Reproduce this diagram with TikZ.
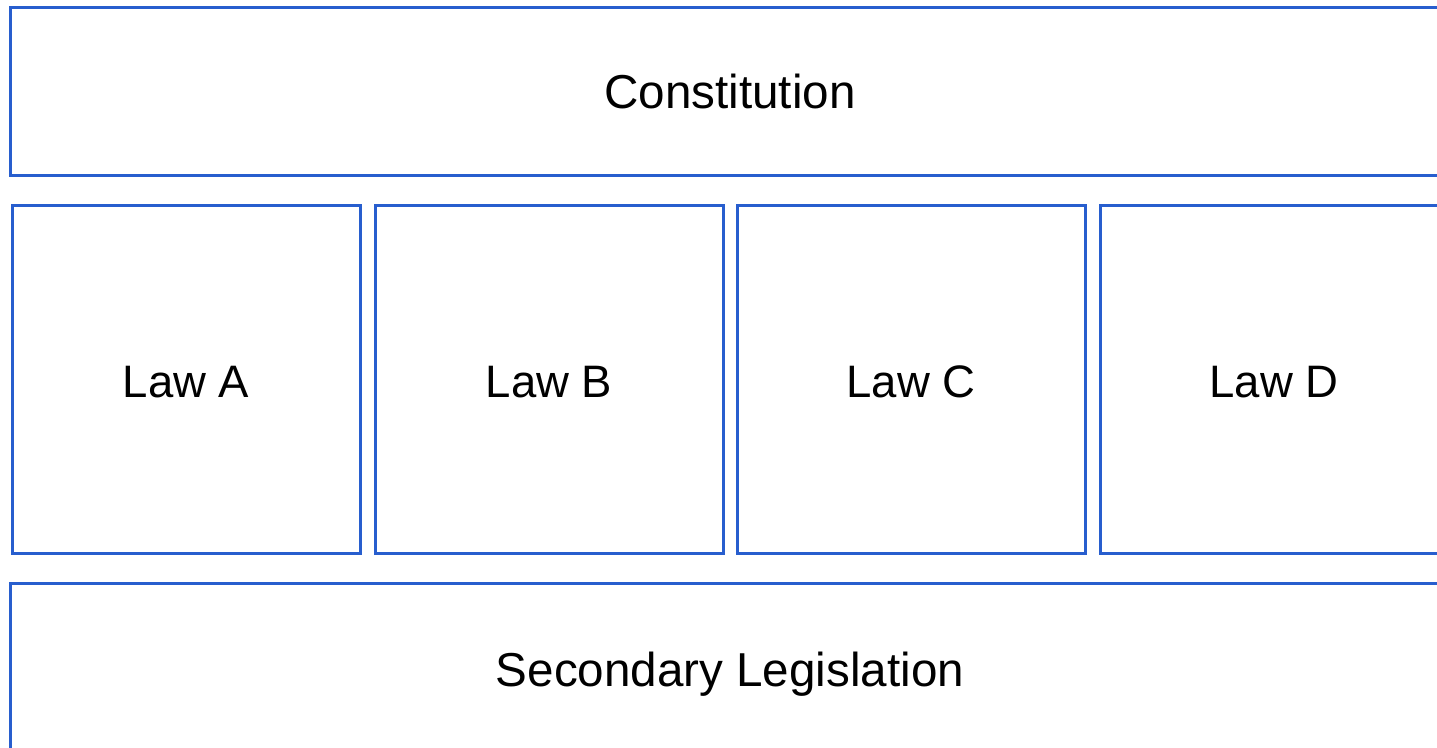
\documentclass[tikz,border=0pt]{standalone}
\usepackage{fontspec}
\setmainfont{Liberation Sans}
\definecolor{boxblue}{RGB}{40,94,206}
\begin{document}
\begin{tikzpicture}[x=1pt,y=-1pt,
  lawbox/.style={draw=boxblue,line width=3pt,fill=white,inner sep=0pt,
    text height=35pt,text depth=0pt,
    font=\fontsize{47.6}{54}\selectfont,text=black},
  smallbox/.style={lawbox,font=\fontsize{45.5}{52}\selectfont,
    minimum width=348pt,minimum height=348pt}]
\useasboundingbox (0,0) rectangle (1437,747);
\clip (0,0) rectangle (1437,747);
\node[lawbox,minimum width=1440pt,minimum height=167.5pt] (const) at (730,91.25) {Constitution};
\node[smallbox] (lawa) at (186,379.5) {Law A};
\node[smallbox] (lawb) at (549,379.5) {Law B};
\node[smallbox] (lawc) at (911,379.5) {Law C};
\node[smallbox] (lawd) at (1274,379.5) {Law D};
\node[lawbox,text height=39pt,minimum width=1440pt,minimum height=167pt] (second) at (730,666.5) {Secondary Legislation};
\end{tikzpicture}
\end{document}
